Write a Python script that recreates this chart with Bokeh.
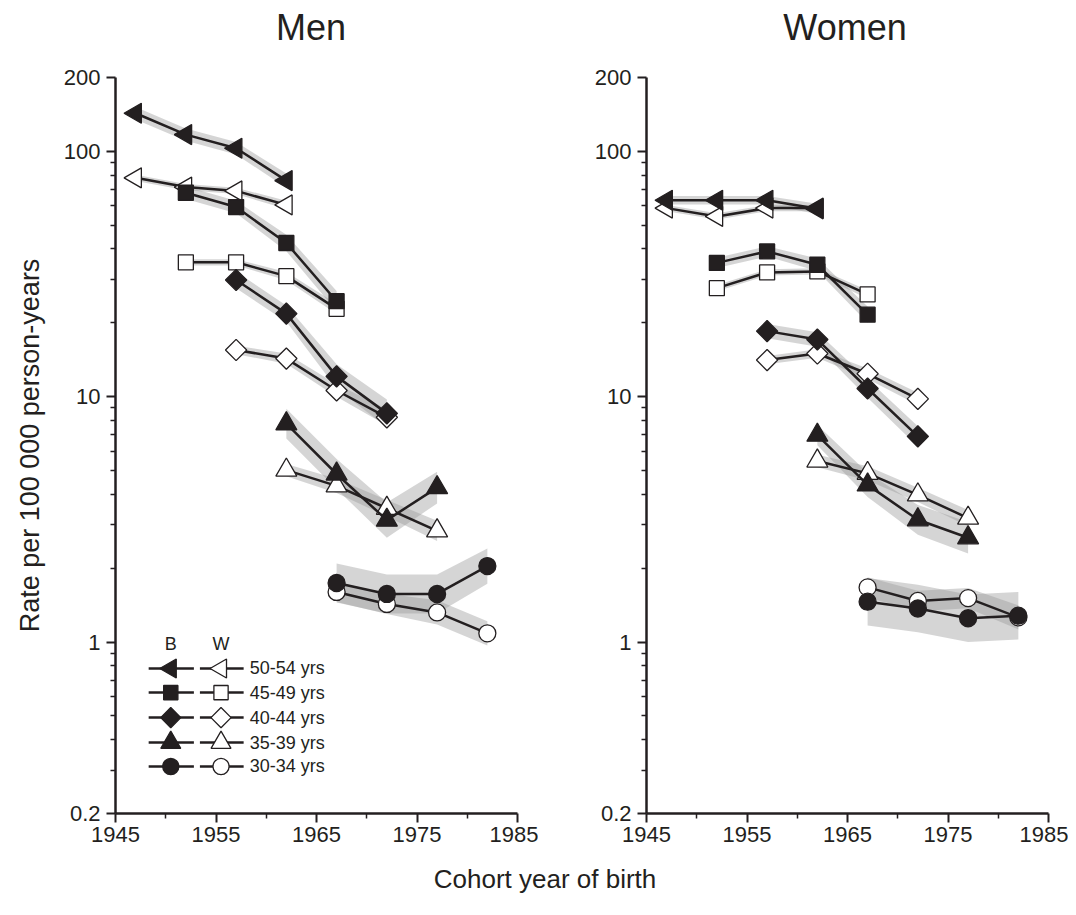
import math
from bokeh.plotting import figure
from bokeh.models import Range1d, FixedTicker, Label, Div
from bokeh.layouts import column, row
from bokeh.embed import file_html
from bokeh.resources import INLINE

# ---------------- data ----------------
panel_titles = ["Men", "Women"]
age_groups = ["50-54 yrs", "45-49 yrs", "40-44 yrs", "35-39 yrs", "30-34 yrs"]

cohort_5054 = [1947, 1952, 1957, 1962]
cohort_4549 = [1952, 1957, 1962, 1967]
cohort_4044 = [1957, 1962, 1967, 1972]
cohort_3539 = [1962, 1967, 1972, 1977]
cohort_3034 = [1967, 1972, 1977, 1982]

# Men
men_black_5054 = [143, 117, 103, 76]
men_white_5054 = [78, 71.5, 69, 60.5]
men_black_4549 = [67.8, 59.3, 42.3, 24.5]
men_white_4549 = [35.3, 35.3, 31.0, 22.8]
men_black_4044 = [29.9, 21.8, 12.1, 8.55]
men_white_4044 = [15.5, 14.3, 10.6, 8.24]
men_black_3539 = [7.76, 4.84, 3.14, 4.26]
men_white_3539 = [5.02, 4.33, 3.51, 2.84]
men_black_3034 = [1.74, 1.57, 1.57, 2.04]
men_white_3034 = [1.60, 1.43, 1.32, 1.085]

# Women
women_black_5054 = [63.2, 63.2, 63.2, 58.3]
women_white_5054 = [58.7, 54.3, 58.7, 58.7]
women_black_4549 = [35.1, 39.1, 34.5, 21.6]
women_white_4549 = [27.7, 32.1, 32.4, 26.1]
women_black_4044 = [18.5, 17.1, 10.8, 6.89]
women_white_4044 = [14.1, 15.0, 12.4, 9.8]
women_black_3539 = [6.97, 4.37, 3.15, 2.66]
women_white_3539 = [5.47, 4.87, 3.98, 3.20]
women_black_3034 = [1.46, 1.37, 1.25, 1.28]
women_white_3034 = [1.67, 1.47, 1.51, 1.26]

# confidence band half-width (multiplicative factor), read from the grey shading
men_black_5054_ci = [1.06, 1.06, 1.06, 1.07]
men_white_5054_ci = [1.03, 1.03, 1.03, 1.04]
men_black_4549_ci = [1.06, 1.06, 1.08, 1.10]
men_white_4549_ci = [1.03, 1.03, 1.04, 1.05]
men_black_4044_ci = [1.08, 1.08, 1.12, 1.14]
men_white_4044_ci = [1.04, 1.05, 1.06, 1.08]
men_black_3539_ci = [1.15, 1.15, 1.18, 1.16]
men_white_3539_ci = [1.06, 1.07, 1.08, 1.10]
men_black_3034_ci = [1.20, 1.20, 1.20, 1.18]
men_white_3034_ci = [1.10, 1.10, 1.12, 1.12]

women_black_5054_ci = [1.04, 1.04, 1.04, 1.05]
women_white_5054_ci = [1.03, 1.03, 1.03, 1.03]
women_black_4549_ci = [1.05, 1.05, 1.06, 1.08]
women_white_4549_ci = [1.03, 1.03, 1.03, 1.04]
women_black_4044_ci = [1.07, 1.07, 1.09, 1.10]
women_white_4044_ci = [1.04, 1.04, 1.05, 1.06]
women_black_3539_ci = [1.10, 1.12, 1.15, 1.16]
women_white_3539_ci = [1.06, 1.07, 1.07, 1.08]
women_black_3034_ci = [1.25, 1.25, 1.25, 1.25]
women_white_3034_ci = [1.10, 1.10, 1.10, 1.12]

x_major_ticks = [1945, 1955, 1965, 1975, 1985]
x_minor_ticks = [1950, 1960, 1970, 1980]
y_major_ticks = [0.2, 1, 10, 100, 200]
y_minor_ticks = [0.3, 0.4, 0.5, 0.6, 0.7, 0.8, 0.9,
                 2, 3, 4, 5, 6, 7, 8, 9,
                 20, 30, 40, 50, 60, 70, 80, 90]

legend_headers = ["B", "W"]

# ---------------- styles / legend placement ----------------
INK = "#231f20"
FONT = "Liberation Sans"
MARKERS = {
    "50-54 yrs": ("triangle", 20, math.pi / 2),
    "45-49 yrs": ("square", 15, 0.0),
    "40-44 yrs": ("square", 15, math.pi / 4),
    "35-39 yrs": ("triangle", 21, 0.0),
    "30-34 yrs": ("circle", 17, 0.0),
}
LEG_ROW_Y = [0.780, 0.622, 0.492, 0.389, 0.311]   # legend key rows (log axis)
LEG_HEAD_Y = 0.985
LEG_B = (1948.3, 1950.5, 1952.8)                  # line start, marker, line end
LEG_W = (1953.4, 1955.5, 1957.75)
LEG_TEXT_X = 1958.35

cohorts = [cohort_5054, cohort_4549, cohort_4044, cohort_3539, cohort_3034]
men_black = [men_black_5054, men_black_4549, men_black_4044, men_black_3539, men_black_3034]
men_white = [men_white_5054, men_white_4549, men_white_4044, men_white_3539, men_white_3034]
men_black_ci = [men_black_5054_ci, men_black_4549_ci, men_black_4044_ci, men_black_3539_ci, men_black_3034_ci]
men_white_ci = [men_white_5054_ci, men_white_4549_ci, men_white_4044_ci, men_white_3539_ci, men_white_3034_ci]
women_black = [women_black_5054, women_black_4549, women_black_4044, women_black_3539, women_black_3034]
women_white = [women_white_5054, women_white_4549, women_white_4044, women_white_3539, women_white_3034]
women_black_ci = [women_black_5054_ci, women_black_4549_ci, women_black_4044_ci, women_black_3539_ci, women_black_3034_ci]
women_white_ci = [women_white_5054_ci, women_white_4549_ci, women_white_4044_ci, women_white_3539_ci, women_white_3034_ci]


def make_panel(black, white, black_ci, white_ci, width, min_left, min_right, with_ylabel, with_legend):
    p = figure(width=width, height=802,
               x_range=Range1d(1945, 1985), y_range=Range1d(0.2, 200),
               y_axis_type="log", output_backend="svg", toolbar_location=None,
               min_border_left=min_left, min_border_right=min_right,
               min_border_top=21, min_border_bottom=45)
    p.title = None
    p.outline_line_color = None
    p.grid.visible = False
    p.background_fill_color = "white"

    for ax in (p.xaxis[0], p.yaxis[0]):
        ax.axis_line_color = INK
        ax.axis_line_width = 2.5
        ax.major_tick_line_color = INK
        ax.major_tick_line_width = 2
        ax.minor_tick_line_color = INK
        ax.minor_tick_line_width = 1.5
        ax.major_tick_in = 0
        ax.minor_tick_in = 0
        ax.major_label_text_font = FONT
        ax.major_label_text_font_size = "22px"
        ax.major_label_text_color = INK
        ax.axis_label_text_font = FONT
        ax.axis_label_text_font_size = "27px"
        ax.axis_label_text_font_style = "normal"
        ax.axis_label_text_color = INK

    p.xaxis[0].ticker = FixedTicker(ticks=x_major_ticks, minor_ticks=x_minor_ticks)
    p.xaxis[0].major_tick_out = 9
    p.xaxis[0].minor_tick_out = 5
    p.xaxis[0].major_label_standoff = 4

    p.yaxis[0].ticker = FixedTicker(ticks=y_major_ticks, minor_ticks=y_minor_ticks)
    p.yaxis[0].major_label_overrides = {t: ("%g" % t) for t in y_major_ticks}
    p.yaxis[0].major_tick_out = 9
    p.yaxis[0].minor_tick_out = 5
    p.yaxis[0].major_label_standoff = 6
    if with_ylabel:
        p.yaxis[0].axis_label = "Rate per 100 000 person-years"
        p.yaxis[0].axis_label_standoff = 16

    # confidence bands
    for xs, ys, cis in list(zip(cohorts, black, black_ci)) + list(zip(cohorts, white, white_ci)):
        lo = [v / f for v, f in zip(ys, cis)]
        hi = [v * f for v, f in zip(ys, cis)]
        p.varea(x=xs, y1=lo, y2=hi, fill_color="#9c9c9c", fill_alpha=0.42)

    # white series first, black on top
    for kind, data in (("white", white), ("black", black)):
        fill = "white" if kind == "white" else INK
        for grp, xs, ys in zip(age_groups, cohorts, data):
            marker, size, angle = MARKERS[grp]
            p.line(xs, ys, line_color=INK, line_width=2.5)
            p.scatter(xs, ys, marker=marker, size=size, angle=angle,
                      fill_color=fill, line_color=INK, line_width=1.3)

    if with_legend:
        for grp, ry in zip(age_groups, LEG_ROW_Y):
            marker, size, angle = MARKERS[grp]
            lsize = size * 0.95
            for (x0, xm, x1), fill in ((LEG_B, INK), (LEG_W, "white")):
                p.line([x0, x1], [ry, ry], line_color=INK, line_width=2.5)
                p.scatter([xm], [ry], marker=marker, size=lsize, angle=angle,
                          fill_color=fill, line_color=INK, line_width=1.3)
            p.add_layout(Label(x=LEG_TEXT_X, y=ry, text=grp, text_align="left",
                               text_baseline="middle", text_font=FONT,
                               text_font_size="18px", text_color=INK))
        for txt, (x0, xm, x1) in zip(legend_headers, (LEG_B, LEG_W)):
            p.add_layout(Label(x=xm, y=LEG_HEAD_Y, text=txt, text_align="center",
                               text_baseline="middle", text_font=FONT,
                               text_font_size="18px", text_color=INK))
    return p


p1 = make_panel(men_black, men_white, men_black_ci, men_white_ci, 538, 115, 21, True, True)
p2 = make_panel(women_black, women_white, women_black_ci, women_white_ci, 530, 108, 20, False, False)


def title_div(text, width, indent):
    return Div(text=text, width=width, height=46,
               styles={"text-align": "center", "font-size": "36px", "font-family": FONT,
                       "color": INK, "text-indent": "%dpx" % indent, "line-height": "46px",
                       "white-space": "nowrap"})


titles = row(title_div(panel_titles[0], 538, 74), title_div(panel_titles[1], 530, 54), spacing=0)

xlabel = Div(text="Cohort year of birth", width=1068, height=36,
             styles={"text-align": "center", "font-size": "26px", "font-family": FONT,
                     "color": INK, "text-indent": "12px", "line-height": "32px"})

layout = column(titles, row(p1, p2, spacing=0), xlabel, spacing=0)

open("out.html", "w").write(file_html(layout, INLINE))
